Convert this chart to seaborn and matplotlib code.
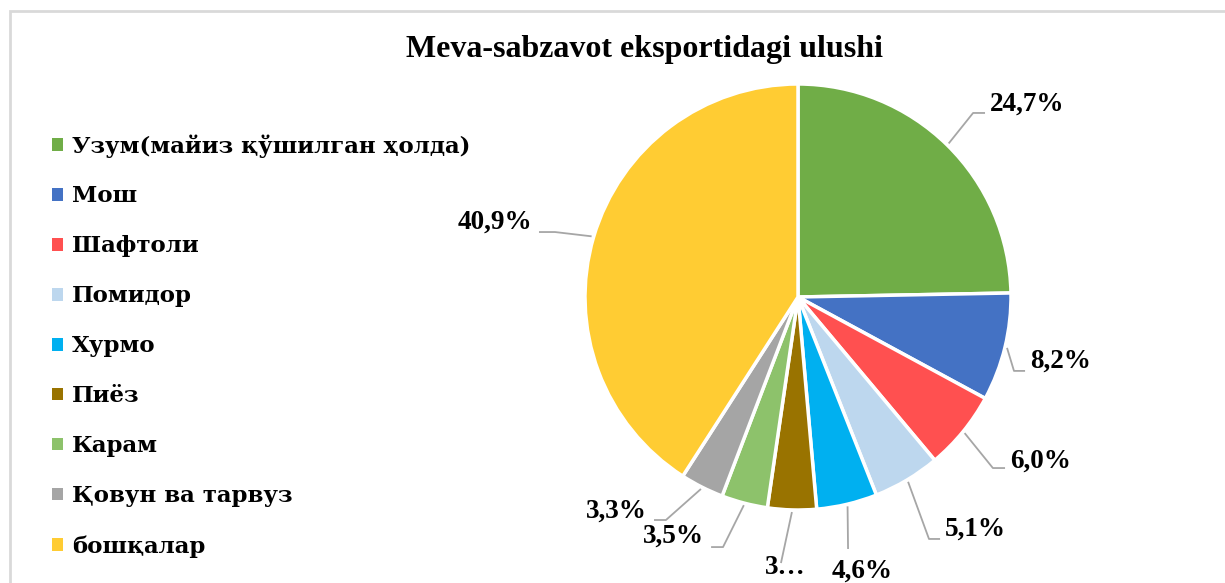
import numpy as np
import matplotlib
matplotlib.use("Agg")
import matplotlib.pyplot as plt
from matplotlib.patches import Rectangle
import seaborn as sns

# ---------------- data ----------------
categories = ["Узум(майиз қўшилган ҳолда)", "Мош", "Шафтоли", "Помидор", "Хурмо",
              "Пиёз", "Карам", "Қовун ва тарвуз", "бошқалар"]
shares = [24.7, 8.2, 6.0, 5.1, 4.6, 3.7, 3.5, 3.3, 40.9]
colors = ["#70AD47", "#4472C4", "#FF5050", "#BDD7EE", "#00B0F0",
          "#997300", "#8DC26B", "#A5A5A5", "#FFCC33"]
title = "Meva-sabzavot eksportidagi ulushi"

# label texts (the Piyoz label is truncated in the original chart)
label_texts = [f"{v:.1f}%".replace(".", ",") for v in shares]
label_texts[5] = "3…"

# ---------------- layout (label placement, data units of the pie, radius = 1) ----------------
# (text x, text y, ha, elbow x, elbow y, end x, end y)
label_layout = [
    (0.900, 0.905, "left",   0.822, 0.864, 0.878, 0.864),
    (1.089, -0.300, "left",  1.014, -0.347, 1.066, -0.347),
    (0.995, -0.770, "left",  0.915, -0.803, 0.972, -0.803),
    (0.690, -1.090, "left",  0.615, -1.136, 0.667, -1.136),
    (0.300, -1.285, "center", 0.235, -1.183, 0.235, -1.183),
    (-0.061, -1.272, "center", -0.080, -1.249, -0.080, -1.249),
    (-0.441, -1.125, "right", -0.352, -1.174, -0.408, -1.174),
    (-0.709, -1.005, "right", -0.620, -1.047, -0.676, -1.047),
    (-1.249, 0.350, "right", -1.141, 0.305, -1.216, 0.305),
]

sns.set_theme(style="white")
plt.rcParams["font.family"] = ["Liberation Serif", "DejaVu Serif"]
plt.rcParams["text.color"] = "black"

W, H, DPI = 12.25, 5.83, 100
fig = plt.figure(figsize=(W, H), dpi=DPI)
fig.patch.set_facecolor("white")

# frame
fig.patches.append(Rectangle((10 / 1225, -0.1), 1.2, 1.1 - 11 / 583, transform=fig.transFigure,
                             fill=False, edgecolor="#D9D9D9", linewidth=2, zorder=0))

# pie axes: centre at pixel (798, 297 from top), radius 213 px
R = 213.0
cx, cy = 798.0, 583 - 297.0
xl, xr, yb, yt = -1.8, 1.9, -1.4, 1.4
ax = fig.add_axes([(cx + xl * R) / 1225, (cy + yb * R) / 583,
                   (xr - xl) * R / 1225, (yt - yb) * R / 583])

wedges, _ = ax.pie(shares, colors=colors, startangle=90, counterclock=False,
                   radius=1.0, wedgeprops=dict(edgecolor="white", linewidth=2.5))
ax.set_xlim(xl, xr)
ax.set_ylim(yb, yt)
ax.set_aspect("equal", adjustable="box")
ax.axis("off")

for w, txt, lay in zip(wedges, label_texts, label_layout):
    mid = np.deg2rad((w.theta1 + w.theta2) / 2)
    sx, sy = 1.01 * np.cos(mid), 1.01 * np.sin(mid)
    tx, ty, ha, ex, ey, nx, ny = lay
    ax.plot([sx, ex, nx], [sy, ey, ny], color="#A6A6A6", lw=1.3, clip_on=False,
            solid_capstyle="butt")
    ax.text(tx, ty, txt, ha=ha, va="center", fontsize=19.5, fontweight="bold",
            color="black", clip_on=False)

fig.text(644 / 1225, 1 - 50 / 583, title, ha="center", va="center",
         fontsize=23, fontweight="bold", color="black")

leg = fig.legend(wedges, categories, loc="upper left",
                 bbox_to_anchor=(52 / 1225, 1 - 134 / 583),
                 frameon=False, handlelength=0.47, handleheight=0.47,
                 handletextpad=0.4, labelspacing=1.22, borderpad=0, borderaxespad=0,
                 prop=dict(family=["DejaVu Serif"], weight="bold", size=16.5))
for h in leg.legend_handles:
    h.set_edgecolor("none")
for t in leg.get_texts():
    t.set_color("black")

fig.savefig("out.png", dpi=DPI, facecolor="white")
